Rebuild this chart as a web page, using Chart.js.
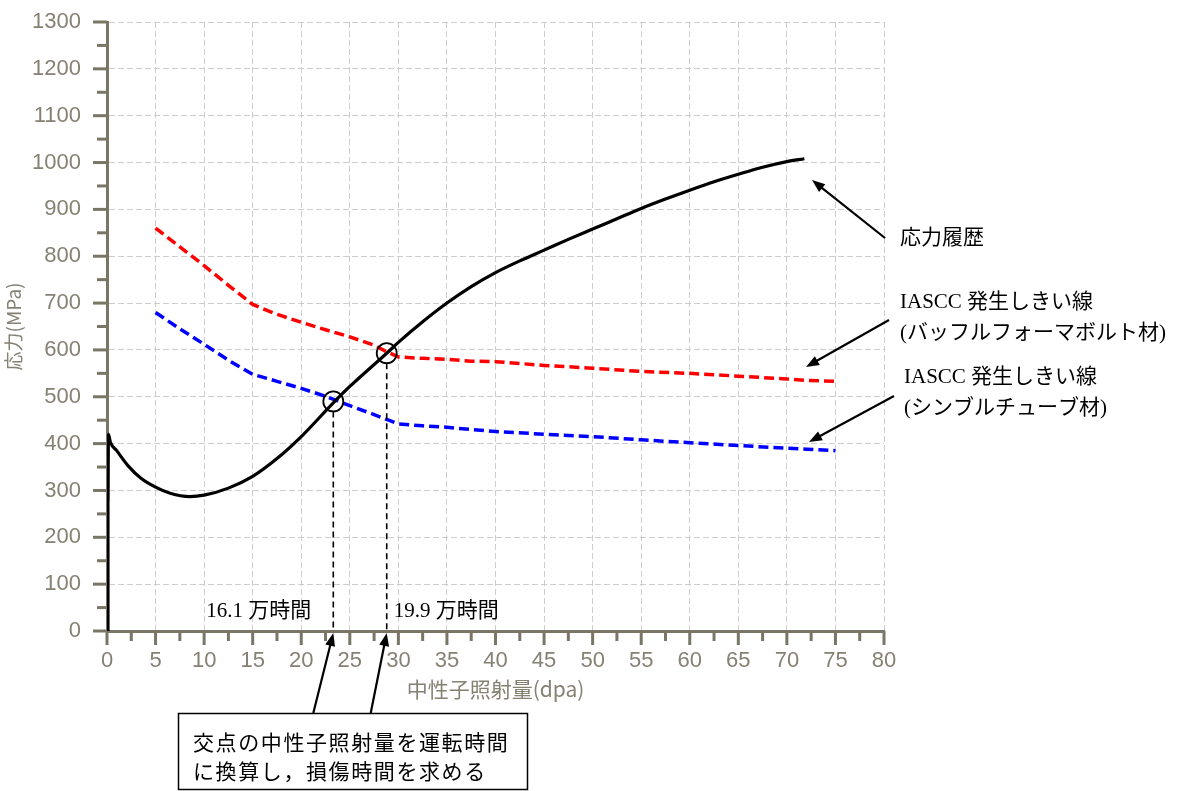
<!DOCTYPE html>
<html><head><meta charset="utf-8">
<script src="https://cdn.jsdelivr.net/npm/chart.js@4.4.1/dist/chart.umd.min.js"></script>
<style>html,body{margin:0;padding:0;background:#fff}canvas{display:block}</style>
</head><body>
<canvas id="c" width="1189" height="791"></canvas>
<script>
// ---- data ----
const stressX = [0.1, 0.1, 0.15, 0.35, 1, 2.2, 3.5, 5, 6.5, 8.5, 10, 12.5, 15, 17.5, 20, 23.3, 25, 28.8, 30, 32.5, 35, 37.5, 40, 42.5, 45, 47.5, 50, 52.5, 55, 57.5, 60, 62.5, 65, 67.5, 70, 71.8];
const stressY = [0, 270, 420, 403, 385, 352, 326, 307, 294, 287, 290, 305, 330, 368, 415, 487, 522, 593, 616, 660, 700, 735, 765, 790, 813, 836, 858, 880, 902, 922, 941, 959, 975, 990, 1002, 1008];
const baffleX = [5, 7.5, 10, 12.5, 15, 17.5, 20, 22.5, 25, 27.5, 28.8, 30, 32.5, 35, 37.5, 40, 45, 50, 55, 60, 65, 70, 72, 75];
const baffleY = [860, 820, 780, 738, 697, 676, 659, 643, 628, 610, 596, 585, 582, 580, 576, 575, 567, 561, 554, 550, 544, 538, 535, 533];
const thimbleX = [5, 7.5, 10, 12.5, 15, 17.5, 20, 22.5, 25, 27.5, 29, 30, 32.5, 35, 37.5, 40, 45, 50, 55, 60, 65, 70, 72, 75];
const thimbleY = [680, 645, 612, 578, 548, 533, 518, 501, 481, 462, 450, 442, 438, 435, 430, 426, 420, 415, 408, 402, 396, 390, 388, 385];
const crossX = [23.3, 28.8];
const crossY = [490, 593];
const crossLabels = ['16.1 万時間', '19.9 万時間'];
const xTickValues = [0,5,10,15,20,25,30,35,40,45,50,55,60,65,70,75,80];
const xMinorValues = [2.5,7.5,12.5,17.5,22.5,27.5,32.5,37.5,42.5,47.5,52.5,57.5,62.5,67.5,72.5,77.5];
const yTickValues = [0,100,200,300,400,500,600,700,800,900,1000,1100,1200,1300];
const yMinorValues = [50,150,250,350,450,550,650,750,850,950,1050,1150,1250];
const xTitle = '中性子照射量(dpa)';
const yTitle = '応力(MPa)';
const noteStress = '応力履歴';
const noteBaffle = ['IASCC 発生しきい線', '(バッフルフォーマボルト材)'];
const noteThimble = ['IASCC 発生しきい線', '(シンブルチューブ材)'];
const boxLines = ['交点の中性子照射量を運転時間', 'に換算し，損傷時間を求める'];

// ---- styles ----
const AXIS = '#7a7666';
const LABEL = '#858173';
const GRID = '#cdcdcd';
const TICKFONT = {family: "'Liberation Sans Narrow','Liberation Sans',sans-serif", size: 22};
const SERIF = "'Liberation Serif','Noto Sans CJK JP',serif";

const pts = (xs, ys) => xs.map((x, i) => ({x, y: ys[i]}));

function arrow(ctx, x1, y1, x2, y2) {
  const ang = Math.atan2(y2 - y1, x2 - x1), L = 13, W = 5;
  ctx.beginPath(); ctx.moveTo(x1, y1);
  ctx.lineTo(x2 - Math.cos(ang) * (L - 2), y2 - Math.sin(ang) * (L - 2)); ctx.stroke();
  ctx.beginPath(); ctx.moveTo(x2, y2);
  ctx.lineTo(x2 - L * Math.cos(ang) + W * Math.sin(ang), y2 - L * Math.sin(ang) - W * Math.cos(ang));
  ctx.lineTo(x2 - L * Math.cos(ang) - W * Math.sin(ang), y2 - L * Math.sin(ang) + W * Math.cos(ang));
  ctx.closePath(); ctx.fill();
}

const annot = {
  id: 'annot',
  beforeDatasetsDraw(chart) {
    const {ctx, chartArea: a, scales: {x, y}} = chart;
    ctx.save();
    ctx.strokeStyle = AXIS; ctx.lineWidth = 3;
    const seg = (x1, y1, x2, y2) => { ctx.beginPath(); ctx.moveTo(x1, y1); ctx.lineTo(x2, y2); ctx.stroke(); };
    yTickValues.forEach(v => { const p = y.getPixelForValue(v); seg(a.left - 14, p, a.left, p); });
    yMinorValues.forEach(v => { const p = y.getPixelForValue(v); seg(a.left - 10, p, a.left, p); });
    xTickValues.forEach(v => { const p = x.getPixelForValue(v); seg(p, a.bottom, p, a.bottom + 14); });
    xMinorValues.forEach(v => { const p = x.getPixelForValue(v); seg(p, a.bottom, p, a.bottom + 10); });
    ctx.restore();
  },
  afterDatasetsDraw(chart) {
    const {ctx, chartArea: a, scales: {x, y}} = chart;
    ctx.save();
    ctx.strokeStyle = '#000'; ctx.fillStyle = '#000';
    ctx.lineWidth = 1.6; ctx.setLineDash([6, 4]);
    crossX.forEach((cx, i) => {
      const px = x.getPixelForValue(cx), py = y.getPixelForValue(crossY[i]);
      ctx.beginPath(); ctx.moveTo(px, py + 10); ctx.lineTo(px, a.bottom); ctx.stroke();
    });
    ctx.setLineDash([]);
    ctx.font = '21px ' + SERIF; ctx.textBaseline = 'middle';
    crossX.forEach((cx, i) => {
      const px = x.getPixelForValue(cx);
      if (i === 0) { ctx.textAlign = 'right'; ctx.fillText(crossLabels[i], px - 22, 611); }
      else { ctx.textAlign = 'left'; ctx.fillText(crossLabels[i], px + 7, 611); }
    });
    ctx.lineWidth = 2.2;
    crossX.forEach((cx, i) => {
      const px = x.getPixelForValue(cx);
      arrow(ctx, px - (i === 0 ? 20 : 16), 713, px, a.bottom + 2);
    });
    ctx.lineWidth = 1.5;
    ctx.strokeRect(178.5, 713.5, 349, 76);
    ctx.font = "21px 'Noto Sans CJK JP',sans-serif"; ctx.textAlign = 'left';
    ctx.letterSpacing = '1.6px';
    ctx.fillText(boxLines[0], 193, 742);
    ctx.fillText(boxLines[1], 193, 771);
    ctx.letterSpacing = '0px';
    ctx.lineWidth = 2.2;
    arrow(ctx, 885, 238, 812, 180);
    arrow(ctx, 889, 320, 806, 367);
    arrow(ctx, 894, 396, 809, 442);
    ctx.font = "21px 'Noto Sans CJK JP',sans-serif";
    ctx.fillText(noteStress, 900, 236);
    ctx.font = '21px ' + SERIF;
    ctx.fillText(noteBaffle[0], 900, 302);
    ctx.fillText(noteBaffle[1], 900, 333);
    ctx.fillText(noteThimble[0], 904, 377);
    ctx.fillText(noteThimble[1], 904, 408);
    ctx.restore();
  }
};

new Chart(document.getElementById('c'), {
  type: 'line',
  data: {
    datasets: [
      {label: 'circles', data: pts(crossX, crossY), showLine: false, pointRadius: 10, pointHoverRadius: 10,
       pointBorderWidth: 1.8, pointBorderColor: '#000', pointBackgroundColor: 'rgba(0,0,0,0)', order: 0},
      {label: '応力履歴', data: pts(stressX, stressY), borderColor: '#000', borderWidth: 3.2,
       pointRadius: 0, cubicInterpolationMode: 'monotone', order: 1},
      {label: 'バッフルフォーマボルト材', data: pts(baffleX, baffleY), borderColor: '#ff0000', borderWidth: 3.5,
       borderDash: [10, 5], pointRadius: 0, tension: 0, order: 2},
      {label: 'シンブルチューブ材', data: pts(thimbleX, thimbleY), borderColor: '#0000ff', borderWidth: 3.5,
       borderDash: [10, 5], pointRadius: 0, tension: 0, order: 3}
    ]
  },
  options: {
    responsive: false, devicePixelRatio: 1, animation: false,
    layout: {padding: {left: 0, top: 22, right: 305, bottom: 87}},
    plugins: {legend: {display: false}, tooltip: {enabled: false}},
    scales: {
      x: {
        type: 'linear', min: 0, max: 80,
        afterBuildTicks: s => { s.ticks = xTickValues.map(v => ({value: v})); },
        afterFit: s => { s.height = 73; s.paddingLeft = 0; s.paddingRight = 0; },
        grid: {color: GRID, lineWidth: 1, drawTicks: false},
        border: {color: AXIS, width: 3, dash: [6, 3]},
        ticks: {color: LABEL, font: TICKFONT, padding: 17, maxRotation: 0, autoSkip: false, callback: v => String(v)},
        title: {display: true, text: xTitle, color: LABEL, font: {family: "'Noto Sans CJK JP',sans-serif", size: 21}, padding: {top: 0, bottom: 2}}
      },
      y: {
        type: 'linear', min: 0, max: 1300,
        afterBuildTicks: s => { s.ticks = yTickValues.map(v => ({value: v})); },
        afterFit: s => { s.width = 107; s.paddingTop = 0; s.paddingBottom = 0; },
        grid: {color: GRID, lineWidth: 1, drawTicks: false},
        border: {color: AXIS, width: 3, dash: [6, 3]},
        ticks: {color: LABEL, font: TICKFONT, padding: 26, autoSkip: false, callback: v => String(v)},
        title: {display: true, text: yTitle, color: LABEL, font: {family: "'Noto Sans CJK JP',sans-serif", size: 19}, padding: {top: 2, bottom: 0}}
      }
    }
  },
  plugins: [annot]
});
</script>
</body></html>
